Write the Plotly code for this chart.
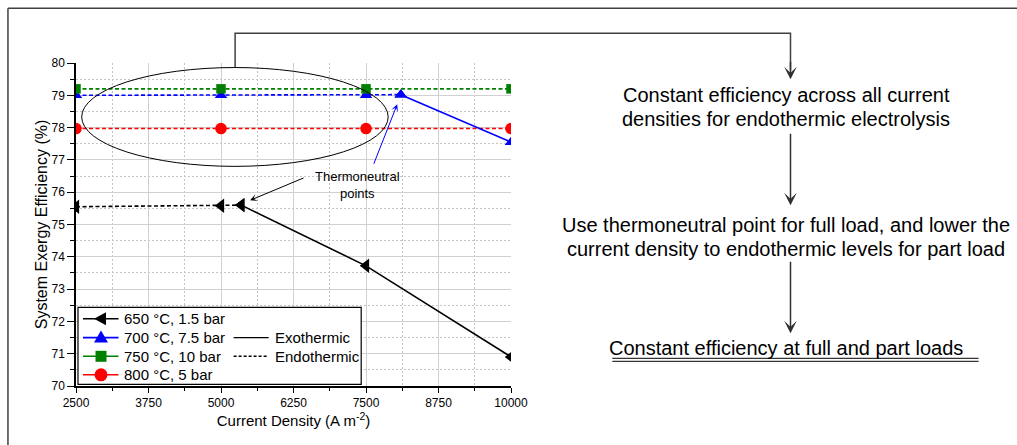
import plotly.graph_objects as go

# ---------------- data ----------------
x_650_endo = [2500, 5000, 5350]
y_650_endo = [75.55, 75.58, 75.6]
x_650_exo = [5350, 7500, 10000]
y_650_exo = [75.6, 73.72, 70.9]

x_700_endo = [2500, 5000, 7500, 8100]
y_700_endo = [79.0, 79.0, 79.0, 79.02]
x_700_exo = [8100, 10000]
y_700_exo = [79.02, 77.55]

x_750 = [2500, 5000, 7500, 10000]
y_750 = [79.2, 79.2, 79.2, 79.2]

x_800 = [2500, 5000, 7500, 10000]
y_800 = [77.97, 77.97, 77.97, 77.97]

series_names = ["650 °C, 1.5 bar", "700 °C, 7.5 bar", "750 °C, 10 bar", "800 °C, 5 bar"]
series_colors = ["#000000", "#0000ff", "#008000", "#ff0000"]
series_symbols = ["triangle-left", "triangle-up", "square", "circle"]
series_sizes = [12.5, 11, 9.5, 11.5]
mode_names = ["Exothermic", "Endothermic"]

x_ticks = [2500, 3750, 5000, 6250, 7500, 8750, 10000]
x_ticktext = ["2500", "3750", "5000", "6250", "7500", "8750", "10000"]
x_minor = [3125, 4375, 5625, 6875, 8125, 9375]
y_ticks = [70, 71, 72, 73, 74, 75, 76, 77, 78, 79, 80]

flow_lines = [
    "Constant efficiency across all current",
    "densities for endothermic electrolysis",
    "Use thermoneutral point for full load, and lower the",
    "current density to endothermic levels for part load",
    "Constant efficiency at full and part loads",
]

# ---------------- layout geometry (pixels) ----------------
W_PX, H_PX = 1017, 445
L, R, T, B = 76, 510.7, 62.7, 385.7


def PX(x):
    return (x - L) / (R - L)


def PY(y):
    return (B - y) / (B - T)


FONT = "Liberation Sans, Arial, sans-serif"
DASH = "4px,2.5px"

fig = go.Figure()

endo = [(x_650_endo, y_650_endo), (x_700_endo, y_700_endo), (x_750, y_750), (x_800, y_800)]
for i, (xs, ys) in enumerate(endo):
    fig.add_trace(go.Scatter(
        x=xs, y=ys, mode="lines+markers", showlegend=False, name=series_names[i],
        line=dict(color=series_colors[i], width=1.6, dash=DASH),
        marker=dict(symbol=series_symbols[i], size=series_sizes[i], color=series_colors[i]),
        cliponaxis=True,
    ))
exo = [(0, x_650_exo, y_650_exo), (1, x_700_exo, y_700_exo)]
for i, xs, ys in exo:
    fig.add_trace(go.Scatter(
        x=xs, y=ys, mode="lines+markers", showlegend=False, name=series_names[i],
        line=dict(color=series_colors[i], width=1.6),
        marker=dict(symbol=series_symbols[i], size=series_sizes[i], color=series_colors[i]),
        cliponaxis=True,
    ))

grid_major = "#d0d0d0"
grid_minor = "#c4c4c4"

fig.update_layout(
    width=W_PX, height=H_PX,
    margin=dict(l=L, r=W_PX - R, t=T, b=H_PX - B, pad=0),
    paper_bgcolor="white", plot_bgcolor="white",
    font=dict(family=FONT, color="black", size=12),
    showlegend=False,
    xaxis=dict(
        range=[2500, 10000], tickvals=x_ticks, ticktext=x_ticktext, tickangle=0,
        showline=True, linecolor="black", linewidth=1.5,
        ticks="outside", ticklen=5, tickwidth=1.2, tickcolor="black",
        tickfont=dict(size=12),
        showgrid=True, gridcolor=grid_major, gridwidth=1,
        zeroline=False,
        minor=dict(tickvals=x_minor, ticks="outside",
                   ticklen=3, tickwidth=1, tickcolor="black",
                   showgrid=True, gridcolor=grid_minor, griddash="2px,2px", gridwidth=1),
        title=dict(text="Current Density (A m<sup>-2</sup>)", font=dict(size=15), standoff=4),
    ),
    yaxis=dict(
        range=[70, 80], tickvals=y_ticks, tickangle=0,
        showline=True, linecolor="black", linewidth=1.5,
        ticks="outside", ticklen=7, tickwidth=1.2, tickcolor="black",
        tickfont=dict(size=12),
        showgrid=True, gridcolor=grid_major, gridwidth=1,
        zeroline=False,
        minor=dict(dtick=0.5, tick0=70, ticks="outside", ticklen=4, tickwidth=1,
                   tickcolor="black", showgrid=True, gridcolor=grid_minor,
                   griddash="2px,2px", gridwidth=1),
        title=dict(text="System Exergy Efficiency (%)", font=dict(size=16), standoff=0),
    ),
    xaxis2=dict(
        range=[2500, 10000], tickvals=x_ticks, overlaying="x", side="top", anchor="y2",
        showline=True, linecolor="black", linewidth=1.5,
        ticks="inside", ticklen=5, tickwidth=1.2, tickcolor="black",
        showticklabels=False, showgrid=False, zeroline=False,
        minor=dict(tickvals=x_minor, ticks="inside", ticklen=3, tickcolor="black"),
    ),
    yaxis2=dict(
        range=[70, 80], tickvals=y_ticks, overlaying="y", side="right", anchor="x2",
        showline=True, linecolor="black", linewidth=1.5,
        ticks="inside", ticklen=7, tickwidth=1.2, tickcolor="black",
        showticklabels=False, showgrid=False, zeroline=False,
        minor=dict(dtick=0.5, tick0=70, ticks="inside", ticklen=4, tickcolor="black"),
    ),
)

shapes = []
ann = []

# ---------- legend box (drawn as a key) ----------
shapes.append(dict(type="rect", xref="paper", yref="paper",
                   x0=PX(78), x1=PX(361), y0=PY(384), y1=PY(307),
                   fillcolor="white", line=dict(color="black", width=1.2), layer="above"))
row_y = [318.5, 337.3, 356, 374.5]
marker_paths = {
    "triangle-left": "M-7,0 L5,6.5 L5,-6.5 Z",
    "triangle-up": "M-7,-5 L7,-5 L0,7 Z",
    "square": "M-5.5,-5.5 L5.5,-5.5 L5.5,5.5 L-5.5,5.5 Z",
}
for i, name in enumerate(series_names):
    yy = row_y[i]
    shapes.append(dict(type="line", xref="paper", yref="paper",
                       x0=PX(83), x1=PX(118.5), y0=PY(yy), y1=PY(yy),
                       line=dict(color=series_colors[i], width=1.6), layer="above"))
    sym = series_symbols[i]
    if sym == "circle":
        shapes.append(dict(type="circle", xref="paper", yref="paper",
                           xsizemode="pixel", ysizemode="pixel",
                           xanchor=PX(101), yanchor=PY(yy),
                           x0=-6.5, x1=6.5, y0=-6.5, y1=6.5,
                           fillcolor=series_colors[i], line=dict(width=0), layer="above"))
    else:
        shapes.append(dict(type="path", xref="paper", yref="paper",
                           xsizemode="pixel", ysizemode="pixel",
                           xanchor=PX(101), yanchor=PY(yy),
                           path=marker_paths[sym],
                           fillcolor=series_colors[i], line=dict(width=0), layer="above"))
    ann.append(dict(xref="paper", yref="paper", x=PX(122), y=PY(yy), text=name,
                    showarrow=False, xanchor="left", yanchor="middle",
                    font=dict(size=15, family=FONT, color="black")))
for j, (name, dash) in enumerate(zip(mode_names, ["solid", "3px,2px"])):
    yy = row_y[j + 1]
    shapes.append(dict(type="line", xref="paper", yref="paper",
                       x0=PX(233.5), x1=PX(268.5), y0=PY(yy), y1=PY(yy),
                       line=dict(color="black", width=1.4, dash=dash), layer="above"))
    ann.append(dict(xref="paper", yref="paper", x=PX(272.5), y=PY(yy), text=name,
                    showarrow=False, xanchor="left", yanchor="middle",
                    font=dict(size=15, family=FONT, color="black")))

# ellipse around endothermic lines
shapes.append(dict(type="circle", xref="x", yref="y", x0=2598, x1=7882, y0=76.8, y1=79.86,
                   line=dict(color="black", width=1), layer="above"))
# bracket connector
shapes.append(dict(type="path", xref="paper", yref="paper",
                   path=f"M{PX(235)},{PY(67)} L{PX(235)},{PY(33)} L{PX(790)},{PY(33)} L{PX(790)},{PY(70)}",
                   line=dict(color="#404040", width=1.5)))
# outer frame lines
shapes.append(dict(type="line", xref="paper", yref="paper",
                   x0=PX(8), x1=PX(1017), y0=PY(8), y1=PY(8),
                   line=dict(color="#404040", width=1.5)))
shapes.append(dict(type="line", xref="paper", yref="paper",
                   x0=PX(8), x1=PX(8), y0=PY(8), y1=PY(445),
                   line=dict(color="#404040", width=1.5)))
# double underline
for yy in (358, 361):
    shapes.append(dict(type="line", xref="paper", yref="paper",
                       x0=PX(612), x1=PX(978), y0=PY(yy), y1=PY(yy),
                       line=dict(color="black", width=1)))
fig.update_layout(shapes=shapes)

# flow arrows
for tail, tip in [(60, 79), (132, 205), (260, 333)]:
    ann.append(dict(xref="paper", yref="paper", x=PX(790), y=PY(tip), ax=0, ay=tail - tip,
                    axref="pixel", ayref="pixel", text="", showarrow=True,
                    arrowhead=3, arrowsize=1.4, arrowwidth=1.5, arrowcolor="#303030"))
# flow text
for txt, yc in zip(flow_lines, [95, 118.5, 224.5, 248.5, 347.5]):
    ann.append(dict(xref="paper", yref="paper", x=PX(786), y=PY(yc), text=txt,
                    showarrow=False, xanchor="center", yanchor="middle",
                    font=dict(size=20, family=FONT, color="black")))
# thermoneutral label and arrows
ann.append(dict(xref="paper", yref="paper", x=PX(357), y=PY(185),
                text="Thermoneutral<br>points", showarrow=False,
                xanchor="center", yanchor="middle",
                font=dict(size=13, family=FONT, color="black")))
ann.append(dict(xref="paper", yref="paper", x=PX(250), y=PY(200), ax=305 - 250, ay=177 - 200,
                axref="pixel", ayref="pixel", text="", showarrow=True,
                arrowhead=3, arrowsize=1.2, arrowwidth=1, arrowcolor="black"))
ann.append(dict(xref="paper", yref="paper", x=PX(397), y=PY(104), ax=373 - 397, ay=165 - 104,
                axref="pixel", ayref="pixel", text="", showarrow=True,
                arrowhead=3, arrowsize=1.2, arrowwidth=1, arrowcolor="#0000ff"))
fig.update_layout(annotations=ann)

fig.write_html("out.html")
